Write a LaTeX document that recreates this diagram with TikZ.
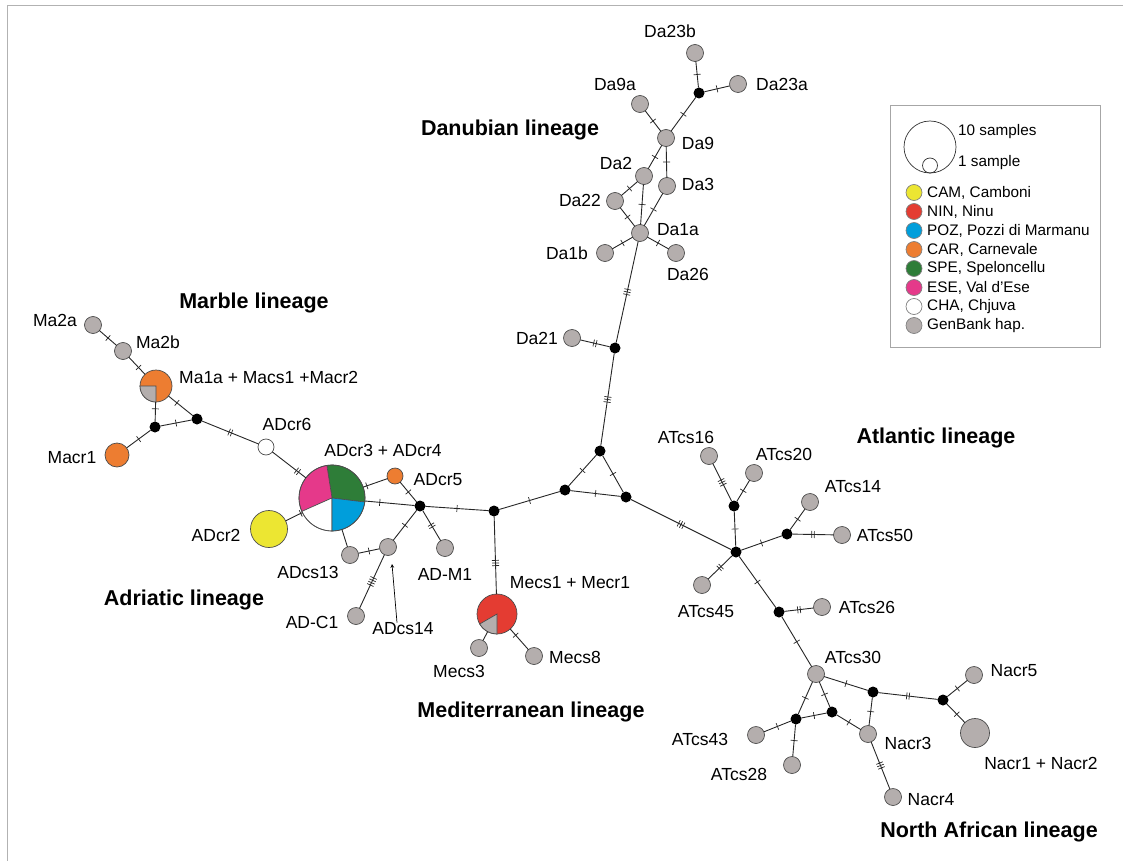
\documentclass[tikz,border=0pt]{standalone}
\usepackage{xcolor}
\usepackage{tikz}
\usepackage{fontspec}
\setmainfont{Liberation Sans}
\usetikzlibrary{decorations.markings}

\definecolor{hapgray}{RGB}{180,174,173}
\definecolor{camyellow}{RGB}{236,230,50}
\definecolor{ninred}{RGB}{228,60,50}
\definecolor{pozblue}{RGB}{0,158,219}
\definecolor{carorange}{RGB}{237,125,49}
\definecolor{spegreen}{RGB}{46,125,56}
\definecolor{esepink}{RGB}{229,57,138}

\begin{document}
\begin{tikzpicture}[x=1pt,y=-1pt,
    hap/.style={circle, draw=black!70, line width=0.7pt, fill=hapgray, minimum size=17pt, inner sep=0pt, outer sep=0pt},
    med/.style={circle, fill=black, minimum size=11pt, inner sep=0pt, outer sep=0pt},
    edge/.style={line width=0.9pt, black!85},
    lbl/.style={font=\fontsize{17.5}{20}\selectfont, inner sep=0pt},
    lineage/.style={font=\bfseries\fontsize{21.5}{24}\selectfont, inner sep=0pt},
    legtxt/.style={font=\fontsize{15.3}{18}\selectfont, anchor=west, inner sep=0pt},
    mut/.style 2 args={postaction={decorate, decoration={markings,
        mark=at position #2 with {\foreach \k in {1,...,#1}{\draw[line width=0.7pt] ({(\k-0.5-#1/2)*2.6pt},-3.5pt) -- ({(\k-0.5-#1/2)*2.6pt},3.5pt);}}}}}]

\useasboundingbox (0,0) rectangle (1123,861);
\draw[black!30, line width=0.8pt] (7,5) -- (1123,5);
\draw[black!30, line width=0.8pt] (7,5) -- (7,861);

% Danubian lineage
\node[hap] (Da23b) at (695,53) {};
\node[med] (d1) at (699,93) {};
\node[hap] (Da23a) at (738,84) {};
\node[hap] (Da9a) at (640,104) {};
\node[hap] (Da9) at (666,138) {};
\node[hap] (Da2) at (644,176) {};
\node[hap] (Da3) at (667,186) {};
\node[hap] (Da22) at (615,201) {};
\node[hap] (Da1a) at (640,233) {};
\node[hap] (Da1b) at (605,253) {};
\node[hap] (Da26) at (676,253) {};
\node[hap] (Da21) at (572,338) {};
\node[med] (d2) at (615,348) {};

% central triangle and junctions
\node[med] (t1) at (600,451) {};
\node[med] (t2) at (565,490) {};
\node[med] (t3) at (626,497) {};
\node[med] (c1) at (494,511) {};
\node[med] (a1) at (420,506) {};

% Adriatic lineage
\node[hap, fill=carorange, minimum size=16pt] (ADcr5) at (395,476) {};
\node[circle, minimum size=66pt, inner sep=0pt, outer sep=0pt] (ADcr3) at (332,498) {};
\node[hap, fill=camyellow, minimum size=37pt] (ADcr2) at (269,529) {};
\node[hap] (ADcs13) at (350,555) {};
\node[hap] (ADcs14) at (388,547) {};
\node[hap] (ADM1) at (445,548) {};
\node[hap] (ADC1) at (356,616) {};
\node[hap, fill=white, minimum size=16pt] (ADcr6) at (266,447) {};

% Marble lineage
\node[med] (m1) at (197,419) {};
\node[med] (m2) at (155,427) {};
\node[hap, fill=carorange, minimum size=32pt] (Ma1a) at (156,386) {};
\node[hap] (Ma2b) at (123,351) {};
\node[hap] (Ma2a) at (93,325) {};
\node[hap, fill=carorange, minimum size=24pt] (Macr1) at (117,455) {};

% Mediterranean lineage
\node[hap, fill=ninred, minimum size=40pt] (Mecs1) at (497,614) {};
\node[hap] (Mecs3) at (479,648) {};
\node[hap] (Mecs8) at (534,656) {};

% Atlantic lineage
\node[hap] (ATcs16) at (709,456) {};
\node[hap] (ATcs20) at (754,473) {};
\node[med] (a2) at (734,506) {};
\node[hap] (ATcs14) at (810,502) {};
\node[med] (a3) at (787,534) {};
\node[hap] (ATcs50) at (842,535) {};
\node[med] (a0) at (736,552) {};
\node[hap] (ATcs45) at (702,585) {};
\node[med] (a4) at (779,612) {};
\node[hap] (ATcs26) at (822,607) {};
\node[hap] (ATcs30) at (816,674) {};

% North African lineage
\node[med] (n1) at (873,692) {};
\node[med] (n2) at (943,700) {};
\node[hap] (Nacr5) at (974,675) {};
\node[hap, minimum size=29pt] (Nacr1) at (975,733) {};
\node[med] (n3) at (796,719) {};
\node[med] (n4) at (832,712) {};
\node[hap] (Nacr3) at (868,734) {};
\node[hap] (ATcs43) at (756,735) {};
\node[hap] (ATcs28) at (792,765) {};
\node[hap] (Nacr4) at (893,797) {};

% pie slices
\foreach \col/\a/\b in {spegreen/-7/99, esepink/99/204, white/204/270, pozblue/270/353}
  \filldraw[fill=\col, draw=black!70, line width=0.6pt] (ADcr3.center) -- ++(\a:33pt) arc[start angle=\a, end angle=\b, radius=33pt] -- cycle;
\draw[black!70, line width=0.7pt] (ADcr3.center) circle[radius=33pt];
\filldraw[fill=hapgray, draw=black!70, line width=0.7pt] (Ma1a.center) -- ++(180:16pt) arc[start angle=180, end angle=270, radius=16pt] -- cycle;
\filldraw[fill=hapgray, draw=black!70, line width=0.7pt] (Mecs1.center) -- ++(210:20pt) arc[start angle=210, end angle=270, radius=20pt] -- cycle;

% connectors
\draw[edge, mut={1}{.5}] (d1) -- (Da23b);
\draw[edge, mut={1}{.5}] (d1) -- (Da23a);
\draw[edge, mut={1}{.5}] (d1) -- (Da9);
\draw[edge, mut={1}{.5}] (Da9a) -- (Da9);
\draw[edge, mut={1}{.5}] (Da9) -- (Da3);
\draw[edge, mut={1}{.5}] (Da9) -- (Da2);
\draw[edge, mut={1}{.5}] (Da2) -- (Da22);
\draw[edge, mut={1}{.5}] (Da2) -- (Da1a);
\draw[edge, mut={1}{.5}] (Da3) -- (Da1a);
\draw[edge, mut={1}{.5}] (Da22) -- (Da1a);
\draw[edge, mut={1}{.5}] (Da1a) -- (Da1b);
\draw[edge, mut={1}{.5}] (Da1a) -- (Da26);
\draw[edge, mut={3}{.5}] (Da1a) -- (d2);
\draw[edge, mut={2}{.5}] (Da21) -- (d2);
\draw[edge, mut={3}{.5}] (d2) -- (t1);
\draw[edge, mut={1}{.5}] (t1) -- (t2);
\draw[edge, mut={1}{.5}] (t1) -- (t3);
\draw[edge, mut={1}{.5}] (t2) -- (t3);
\draw[edge, mut={1}{.5}] (c1) -- (t2);
\draw[edge, mut={3}{.5}] (t3) -- (a0);
\draw[edge, mut={1}{.5}] (a1) -- (c1);
\draw[edge, mut={1}{.7}] (a1) -- (ADcr3);
\draw[edge, mut={1}{.5}] (a1) -- (ADcr5);
\draw[edge, mut={1}{.85}] (ADcr5) -- (ADcr3);
\draw[edge, mut={2}{.5}] (a1) -- (ADM1);
\draw[edge, mut={1}{.5}] (a1) -- (ADcs14);
\draw[edge, mut={1}{.5}] (ADcs14) -- (ADcs13);
\draw[edge, mut={4}{.5}] (ADcs14) -- (ADC1);
\draw[edge] (ADcs13) -- (ADcr3);
\draw[edge, mut={1}{.9}] (ADcr2) -- (ADcr3);
\draw[edge, mut={2}{.75}] (ADcr6) -- (ADcr3);
\draw[edge, mut={2}{.5}] (m1) -- (ADcr6);
\draw[edge, mut={1}{.35}] (Ma1a) -- (m1);
\draw[edge, mut={1}{.35}] (Ma1a) -- (m2);
\draw[edge, mut={1}{.5}] (m1) -- (m2);
\draw[edge, mut={1}{.5}] (m2) -- (Macr1);
\draw[edge, mut={1}{.6}] (Ma2b) -- (Ma1a);
\draw[edge, mut={1}{.5}] (Ma2a) -- (Ma2b);
\draw[edge, mut={3}{.6}] (c1) -- (Mecs1);
\draw[edge] (Mecs1) -- (Mecs3);
\draw[edge, mut={1}{.3}] (Mecs1) -- (Mecs8);
\draw[edge, mut={3}{.5}] (a2) -- (ATcs16);
\draw[edge, mut={1}{.5}] (a2) -- (ATcs20);
\draw[edge, mut={1}{.5}] (a2) -- (a0);
\draw[edge, mut={1}{.5}] (a0) -- (a3);
\draw[edge, mut={1}{.5}] (a3) -- (ATcs14);
\draw[edge, mut={2}{.5}] (a3) -- (ATcs50);
\draw[edge, mut={2}{.5}] (a0) -- (ATcs45);
\draw[edge, mut={1}{.5}] (a0) -- (a4);
\draw[edge, mut={2}{.5}] (a4) -- (ATcs26);
\draw[edge, mut={1}{.5}] (a4) -- (ATcs30);
\draw[edge, mut={1}{.5}] (ATcs30) -- (n1);
\draw[edge, mut={2}{.5}] (n1) -- (n2);
\draw[edge, mut={1}{.5}] (n2) -- (Nacr5);
\draw[edge, mut={1}{.55}] (n2) -- (Nacr1);
\draw[edge, mut={1}{.5}] (ATcs30) -- (n3);
\draw[edge, mut={1}{.5}] (ATcs30) -- (n4);
\draw[edge, mut={1}{.5}] (n3) -- (n4);
\draw[edge, mut={1}{.5}] (n4) -- (Nacr3);
\draw[edge, mut={1}{.5}] (n1) -- (Nacr3);
\draw[edge, mut={1}{.5}] (n3) -- (ATcs43);
\draw[edge, mut={1}{.5}] (n3) -- (ATcs28);
\draw[edge, mut={3}{.5}] (Nacr3) -- (Nacr4);

% haplotype labels
\node[lbl] (l-Da23b) at (670,31) {Da23b};
\node[lbl] (l-Da23a) at (782,84) {Da23a};
\node[lbl] (l-Da9a) at (615,84) {Da9a};
\node[lbl] (l-Da9) at (698,143) {Da9};
\node[lbl] (l-Da2) at (616,163) {Da2};
\node[lbl] (l-Da3) at (698,184) {Da3};
\node[lbl] (l-Da22) at (580,200) {Da22};
\node[lbl] (l-Da1a) at (678,230) {Da1a};
\node[lbl] (l-Da1b) at (567,253) {Da1b};
\node[lbl] (l-Da26) at (688,274) {Da26};
\node[lbl] (l-Da21) at (537,338) {Da21};
\node[lbl] (l-Ma2a) at (55,320) {Ma2a};
\node[lbl] (l-Ma2b) at (158,342) {Ma2b};
\node[lbl, anchor=west] (l-Ma1a) at (179,377) {Ma1a + Macs1 +Macr2};
\node[lbl] (l-Macr1) at (72,458) {Macr1};
\node[lbl] (l-ADcr6) at (287,424) {ADcr6};
\node[lbl] (l-ADcr3) at (383,450) {ADcr3 + ADcr4};
\node[lbl] (l-ADcr5) at (438,480) {ADcr5};
\node[lbl] (l-ADcr2) at (216,535) {ADcr2};
\node[lbl] (l-ADcs13) at (308,572) {ADcs13};
\node[lbl] (l-ADM1) at (445,574) {AD-M1};
\node[lbl] (l-ADC1) at (312,622) {AD-C1};
\node[lbl] (l-ADcs14) at (403,629) {ADcs14};
\node[lbl] (l-Mecs1) at (570,583) {Mecs1 + Mecr1};
\node[lbl] (l-Mecs3) at (459,671) {Mecs3};
\node[lbl] (l-Mecs8) at (575,657) {Mecs8};
\node[lbl] (l-ATcs16) at (686,437) {ATcs16};
\node[lbl] (l-ATcs20) at (784,454) {ATcs20};
\node[lbl] (l-ATcs14) at (853,487) {ATcs14};
\node[lbl] (l-ATcs50) at (885,535) {ATcs50};
\node[lbl] (l-ATcs45) at (706,612) {ATcs45};
\node[lbl] (l-ATcs26) at (867,607) {ATcs26};
\node[lbl] (l-ATcs30) at (853,657) {ATcs30};
\node[lbl] (l-Nacr5) at (1014,671) {Nacr5};
\node[lbl] (l-ATcs43) at (700,739) {ATcs43};
\node[lbl] (l-Nacr3) at (908,743) {Nacr3};
\node[lbl] (l-Nacr1) at (1041,763) {Nacr1 + Nacr2};
\node[lbl] (l-ATcs28) at (739,774) {ATcs28};
\node[lbl] (l-Nacr4) at (931,800) {Nacr4};

% pointer to ADcs14
\coordinate (tip14) at (392,564);
\draw[->, >=stealth, line width=0.7pt] ([xshift=-6pt]l-ADcs14.north) -- (tip14);

% lineage names
\node[lineage] (danube) at (510,130) {Danubian lineage};
\node[lineage] (marble) at (254,303) {Marble lineage};
\node[lineage] (atlantic) at (936,438) {Atlantic lineage};
\node[lineage] (adriatic) at (184,600) {Adriatic lineage};
\node[lineage] (medit) at (531,712) {Mediterranean lineage};
\node[lineage] (nafrica) at (989,832) {North African lineage};

% legend
\draw[black!35, line width=0.8pt] (890,105) rectangle (1100,347);
\node[circle, draw=black!80, line width=0.7pt, minimum size=52pt, inner sep=0pt] (big) at (930,147) {};
\node[circle, draw=black!80, line width=0.7pt, minimum size=15pt, inner sep=0pt] (small) at (930,165.5) {};
\node[legtxt] (ten) at (958,132) {10 samples};
\node[legtxt] (one) at (958,163) {1 sample};
\foreach \c/\t [count=\i from 0] in {camyellow/{CAM, Camboni}, ninred/{NIN, Ninu}, pozblue/{POZ, Pozzi di Marmanu}, carorange/{CAR, Carnevale}, spegreen/{SPE, Speloncellu}, esepink/{ESE, Val d’Ese}, white/{CHA, Chjuva}, hapgray/{GenBank hap.}}{
  \node[hap, fill=\c, minimum size=16pt, draw=black!50] (leg\i) at (914,192.5+19*\i) {};
  \node[legtxt] (legt\i) at (927,192.5+19*\i) {\t};
}
\end{tikzpicture}
\end{document}
